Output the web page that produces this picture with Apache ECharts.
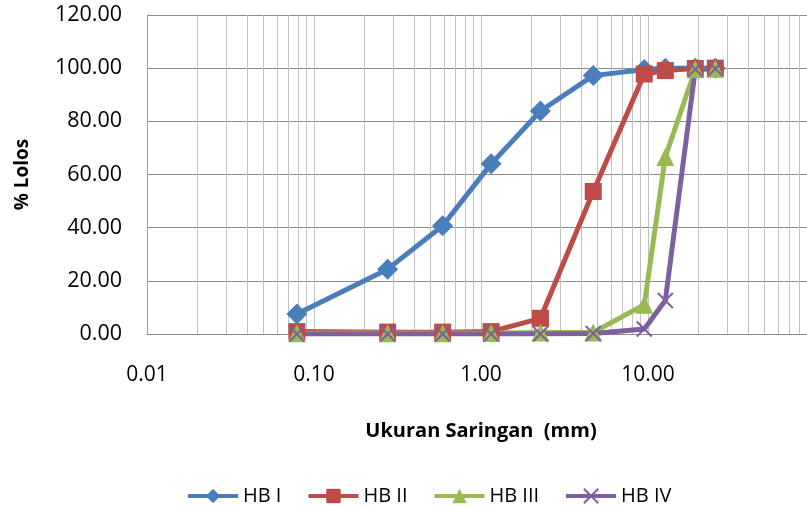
<!DOCTYPE html>
<html>
<head>
<meta charset="utf-8">
<script src="https://cdn.jsdelivr.net/npm/echarts@6/dist/echarts.min.js"></script>
<style>
html,body{margin:0;padding:0;background:#fff;}
#chart{width:807px;height:506px;}
</style>
</head>
<body>
<div id="chart"></div>
<script>
// Sieve sizes (mm)
var sieveSizes = [0.079, 0.276, 0.589, 1.15, 2.27, 4.70, 9.5, 12.7, 19.2, 25.3];
var seriesNames = ['HB I', 'HB II', 'HB III', 'HB IV'];
var hb1 = [7.5, 24.4, 40.7, 64.0, 83.9, 97.2, 99.5, 100, 100, 100];
var hb2 = [0.9, 0.7, 0.7, 0.9, 5.9, 53.6, 97.8, 99.1, 99.9, 100];
var hb3 = [0.3, 0.3, 0.3, 0.4, 0.6, 0.6, 11.0, 66.6, 99.6, 99.8];
var hb4 = [0, 0, 0, 0, 0, 0.2, 1.9, 12.6, 99.6, 99.8];
// minor log gridline values
var minorGrid = [0.02,0.03,0.04,0.05,0.06,0.07,0.08,0.09,
                 0.2,0.3,0.4,0.5,0.6,0.7,0.8,0.9,
                 2,3,4,5,6,7,8,9,
                 20,30,40,50,60,70,80,90];
var yTicks = {min: 0, max: 120, interval: 20};
var xRange = {min: 0.01, max: 100};

var FONT = 'Open Sans';
function pairs(vals){ return sieveSizes.map(function(x,i){ return [x, vals[i]]; }); }

var colors = ['#4a7ebb', '#be4b48', '#98b954', '#7d60a0'];
var crossPath = 'path://M0,0 L10,10 M10,0 L0,10';

var chart = echarts.init(document.getElementById('chart'), null, {renderer: 'canvas'});
chart.setOption({
  animation: false,
  textStyle: {fontFamily: FONT},
  grid: {left: 147, width: 668, top: 15, height: 319, containLabel: false, outerBoundsMode: 'none'},
  legend: {
    data: seriesNames,
    left: 181, top: 481,
    itemWidth: 50, itemHeight: 18, itemGap: 25,
    lineStyle: {width: 4},
    textStyle: {fontFamily: FONT, fontSize: 20, color: '#000'}
  },
  xAxis: {
    type: 'log', logBase: 10, min: xRange.min, max: xRange.max,
    name: 'Ukuran Saringan  (mm)', nameLocation: 'middle', nameGap: 87,
    nameTextStyle: {fontFamily: FONT, fontSize: 20, fontWeight: 'bold', color: '#000'},
    axisLine: {show: true, onZero: false, lineStyle: {color: '#8c8c8c', width: 1}},
    axisTick: {show: false},
    axisLabel: {margin: 31, fontSize: 21, color: '#000', fontFamily: FONT, showMaxLabel: false,
      formatter: function(v){ return Number(v).toFixed(2); }},
    splitLine: {show: true, lineStyle: {color: '#c0c0c0', width: 1}}
  },
  yAxis: {
    type: 'value', min: yTicks.min, max: yTicks.max, interval: yTicks.interval,
    name: '% Lolos', nameLocation: 'middle', nameGap: 115, nameRotate: 90,
    nameTextStyle: {fontFamily: FONT, fontSize: 19, fontWeight: 'bold', color: '#000'},
    axisLine: {show: true, lineStyle: {color: '#9a9a9a', width: 1}},
    axisTick: {show: false},
    axisLabel: {margin: 25, fontSize: 21.5, color: '#000', fontFamily: FONT,
      formatter: function(v){ return Number(v).toFixed(2); }},
    splitLine: {show: true, lineStyle: {color: '#8c8c8c', width: 1}}
  },
  series: [
    {
      name: 'minor', type: 'line', data: [], silent: true, z: 1,
      markLine: {
        silent: true, symbol: ['none','none'], z: 1, animation: false,
        label: {show: false},
        lineStyle: {color: '#c0c0c0', width: 1, type: 'solid'},
        emphasis: {disabled: true},
        data: minorGrid.map(function(v){ return {xAxis: v}; })
      }
    },
    {
      name: seriesNames[0], type: 'line', data: pairs(hb1), z: 3,
      symbol: 'diamond', symbolSize: 21,
      lineStyle: {color: colors[0], width: 5},
      itemStyle: {color: colors[0]}
    },
    {
      name: seriesNames[1], type: 'line', data: pairs(hb2), z: 3,
      symbol: 'rect', symbolSize: 17,
      lineStyle: {color: colors[1], width: 5},
      itemStyle: {color: colors[1]}
    },
    {
      name: seriesNames[2], type: 'line', data: pairs(hb3), z: 3,
      symbol: 'triangle', symbolSize: 18,
      lineStyle: {color: colors[2], width: 5},
      itemStyle: {color: colors[2]}
    },
    {
      name: seriesNames[3], type: 'line', data: pairs(hb4), z: 3,
      symbol: crossPath, symbolSize: 15,
      lineStyle: {color: colors[3], width: 5},
      itemStyle: {color: colors[3], borderColor: colors[3], borderWidth: 2}
    }
  ]
});
</script>
</body>
</html>
